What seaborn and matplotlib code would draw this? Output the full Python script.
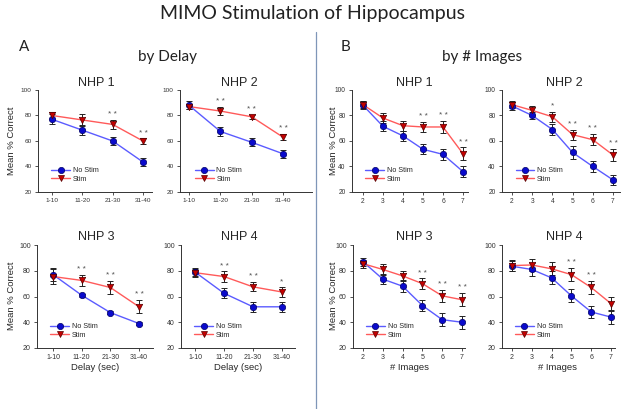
import numpy as np
import pandas as pd
import matplotlib
matplotlib.use("Agg")
import matplotlib.pyplot as plt
import seaborn as sns
from matplotlib.lines import Line2D

# x categories
delay_labels = ["1-10", "11-20", "21-30", "31-40"]
n_images = [2, 3, 4, 5, 6, 7]

# A: by delay
a1_nostim = [77, 68.5, 60, 43.5]
a1_nostim_err = [4, 4, 3, 3]
a1_stim = [80, 76.5, 73, 60]
a1_stim_err = [3, 5, 3.5, 2]
a1_sig = ["", "", "* *", "* *"]

a2_nostim = [88, 67.5, 59, 50]
a2_nostim_err = [3, 3.5, 3, 3]
a2_stim = [87, 83.5, 79, 63]
a2_stim_err = [2, 3, 1.5, 2.5]
a2_sig = ["", "* *", "* *", "* *"]

a3_nostim = [77, 61, 47.5, 39]
a3_nostim_err = [5, 1, 1, 1]
a3_stim = [75.5, 72.5, 67, 52]
a3_stim_err = [5.5, 4, 5, 5]
a3_sig = ["", "* *", "* *", "* *"]

a4_nostim = [79, 62.5, 52, 52]
a4_nostim_err = [3, 4, 4, 4]
a4_stim = [78.5, 75.5, 67.5, 63.5]
a4_stim_err = [3, 4, 3.5, 4]
a4_sig = ["", "* *", "* *", "*"]

# B: by number of images
b1_nostim = [88, 71.5, 64, 53.5, 49.5, 36]
b1_nostim_err = [3, 4, 4, 4, 4.5, 4]
b1_stim = [88.5, 78, 72, 71, 71, 50]
b1_stim_err = [3, 4, 4, 4, 5, 5]
b1_sig = ["", "", "", "* *", "* *", "* *"]

b2_nostim = [87.5, 80, 69, 51, 40, 29.5]
b2_nostim_err = [3, 3, 4.5, 5, 4.5, 4]
b2_stim = [88.5, 84, 79, 65, 61, 49]
b2_stim_err = [3, 3.5, 4, 4, 4.5, 4.5]
b2_sig = ["", "", "*", "* *", "* *", "* *"]

b3_nostim = [87, 73.5, 68, 53, 42, 40]
b3_nostim_err = [3, 4, 4.5, 4.5, 5, 5]
b3_stim = [85.5, 81, 76, 70, 60.5, 57.5]
b3_stim_err = [3, 4, 4, 4, 4.5, 5]
b3_sig = ["", "", "", "* *", "* *", "* *"]

b4_nostim = [83.5, 81, 74.5, 60.5, 48, 44]
b4_nostim_err = [4, 5, 5, 5, 5, 5]
b4_stim = [84, 84.5, 81.5, 77, 67, 54.5]
b4_stim_err = [4, 4.5, 5, 5, 5, 5]
b4_sig = ["", "", "", "* *", "* *", ""]

W, H = 624, 409
BLUE_LINE, BLUE_MARK = "#5b5bff", "#0a0acc"
RED_LINE, RED_MARK = "#ff5a5a", "#c40000"

sns.set_style("ticks")
plt.rcParams["font.family"] = ["Liberation Sans", "DejaVu Sans"]
HEAD_FONT = ["Lato", "DejaVu Sans"]


def rect(left, right, top, bottom):
    return [left / W, 1 - bottom / H, (right - left) / W, (bottom - top) / H]


def draw_panel(fig, title, box, tick_px, xpos, xlabels, nostim, nostim_err,
               stim, stim_err, sig, title_xy, ticksize):
    ax = fig.add_axes(rect(*box))
    df = pd.DataFrame({
        "x": list(xpos) * 2,
        "y": list(nostim) + list(stim),
        "cond": ["No Stim"] * len(xpos) + ["Stim"] * len(xpos),
    })
    sns.lineplot(data=df, x="x", y="y", hue="cond", palette={"No Stim": BLUE_LINE, "Stim": RED_LINE},
                 linewidth=1.0, legend=False, ax=ax, zorder=2)
    ax.errorbar(xpos, nostim, yerr=nostim_err, fmt="none", ecolor="#222222",
                elinewidth=0.7, capsize=1.9, capthick=0.7, zorder=3)
    ax.errorbar(xpos, stim, yerr=stim_err, fmt="none", ecolor="#222222",
                elinewidth=0.7, capsize=1.9, capthick=0.7, zorder=3)
    sns.scatterplot(x=xpos, y=nostim, marker="o", s=21, color=BLUE_MARK,
                    edgecolor="#000066", linewidth=0.5, ax=ax, zorder=4)
    sns.scatterplot(x=xpos, y=stim, marker="v", s=21, color=RED_MARK,
                    edgecolor="#550000", linewidth=0.5, ax=ax, zorder=4)

    for xi, s, top in zip(xpos, sig, np.array(stim) + np.array(stim_err)):
        if s:
            ax.text(xi, top + 3.0, s, ha="center", va="baseline", fontsize=6, color="#505050")

    # x-limits from pixel layout of first/last tick
    step = (xpos[-1] - xpos[0]) / (tick_px[1] - tick_px[0])
    ax.set_xlim(xpos[0] + (box[0] - tick_px[0]) * step, xpos[0] + (box[1] - tick_px[0]) * step)
    ax.set_ylim(20, 100)
    ax.set_xticks(xpos)
    ax.set_xticklabels(xlabels)
    ax.set_yticks([20, 40, 60, 80, 100])
    ax.set_xlabel("")
    ax.set_ylabel("")
    ax.tick_params(labelsize=ticksize, length=2.5, width=0.6, pad=2, colors="#333333")
    for sp in ["left", "bottom"]:
        ax.spines[sp].set_linewidth(0.7)
        ax.spines[sp].set_color("#333333")
    sns.despine(ax=ax)

    handles = [
        Line2D([], [], color=BLUE_LINE, lw=1, marker="o", markersize=4.5,
               markerfacecolor=BLUE_MARK, markeredgecolor="#000066", markeredgewidth=0.5),
        Line2D([], [], color=RED_LINE, lw=1, marker="v", markersize=4.5,
               markerfacecolor=RED_MARK, markeredgecolor="#550000", markeredgewidth=0.5),
    ]
    ax.legend(handles, ["No Stim", "Stim"], loc="lower left", bbox_to_anchor=(0.09, 0.06),
              frameon=False, fontsize=5.2, handlelength=2.6, labelspacing=0.25,
              handletextpad=0.4, borderaxespad=0)

    fig.text(title_xy[0] / W, 1 - title_xy[1] / H, title, ha="center", va="center", fontsize=9)
    return ax


fig = plt.figure(figsize=(W / 100, H / 100), dpi=100)

dpos = list(range(len(delay_labels)))
ilab = [str(v) for v in n_images]

draw_panel(fig, "NHP 1", (38, 152, 90, 192), (52, 143), dpos, delay_labels,
           a1_nostim, a1_nostim_err, a1_stim, a1_stim_err, a1_sig, (96, 83), 4.6)
draw_panel(fig, "NHP 2", (180, 312, 90, 192), (189, 283), dpos, delay_labels,
           a2_nostim, a2_nostim_err, a2_stim, a2_stim_err, a2_sig, (239, 83), 4.6)
draw_panel(fig, "NHP 3", (37, 153, 245, 348), (53, 139), dpos, delay_labels,
           a3_nostim, a3_nostim_err, a3_stim, a3_stim_err, a3_sig, (96, 237), 5.0)
draw_panel(fig, "NHP 4", (181, 295, 245, 348), (195, 282), dpos, delay_labels,
           a4_nostim, a4_nostim_err, a4_stim, a4_stim_err, a4_sig, (239, 237), 5.0)

draw_panel(fig, "NHP 1", (352, 468, 90, 192), (363, 463), n_images, ilab,
           b1_nostim, b1_nostim_err, b1_stim, b1_stim_err, b1_sig, (414, 83), 4.8)
draw_panel(fig, "NHP 2", (502, 620, 90, 192), (512, 613), n_images, ilab,
           b2_nostim, b2_nostim_err, b2_stim, b2_stim_err, b2_sig, (564, 83), 4.8)
draw_panel(fig, "NHP 3", (353, 465, 245, 348), (363, 462), n_images, ilab,
           b3_nostim, b3_nostim_err, b3_stim, b3_stim_err, b3_sig, (414, 237), 5.0)
draw_panel(fig, "NHP 4", (502, 615, 245, 348), (512, 611), n_images, ilab,
           b4_nostim, b4_nostim_err, b4_stim, b4_stim_err, b4_sig, (564, 237), 5.0)

# axis labels
for x, y in [(12, 141), (12, 296), (333, 141), (333, 296)]:
    fig.text(x / W, 1 - y / H, "Mean % Correct", rotation=90, ha="center", va="center", fontsize=6.8)
for x, lab in [(95, "Delay (sec)"), (238, "Delay (sec)"), (409, "# Images"), (558, "# Images")]:
    fig.text(x / W, 1 - 368 / H, lab, ha="center", va="center", fontsize=6.8)

# headers
fig.text(312 / W, 1 - 14 / H, "MIMO Stimulation of Hippocampus", ha="center", va="center",
         fontsize=14, family=HEAD_FONT, color="#222222")
fig.text(24 / W, 1 - 47 / H, "A", ha="center", va="center", fontsize=11, family=HEAD_FONT, color="#222222")
fig.text(168 / W, 1 - 57 / H, "by Delay", ha="center", va="center", fontsize=11, family=HEAD_FONT, color="#222222")
fig.text(346 / W, 1 - 47 / H, "B", ha="center", va="center", fontsize=11, family=HEAD_FONT, color="#222222")
fig.text(482 / W, 1 - 57 / H, "by # Images", ha="center", va="center", fontsize=11, family=HEAD_FONT, color="#222222")

# vertical separator
fig.add_artist(Line2D([316 / W, 316 / W], [1 - 32 / H, 0], color="#7f96b8", lw=0.9))

fig.savefig("out.png", dpi=100)
